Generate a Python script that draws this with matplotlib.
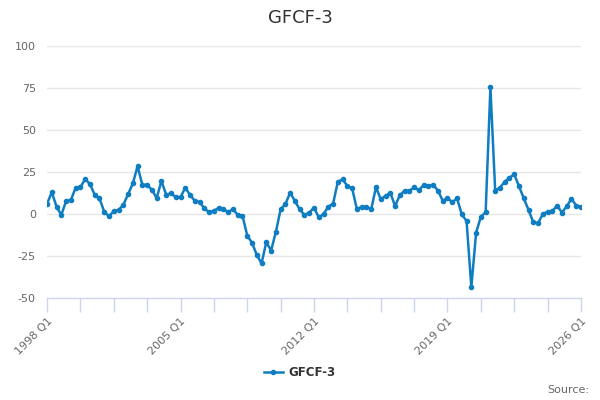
import matplotlib
matplotlib.use("Agg")
import matplotlib.pyplot as plt
from matplotlib.lines import Line2D

years = list(range(1998, 2026))
quarters = [f"{y} Q{q}" for y in years for q in range(1, 5)] + ["2026 Q1"]

gfcf3 = [
    6.0, 13.0, 4.4, -0.6,
    7.7, 8.3, 15.5, 15.9,
    20.8, 17.8, 11.5, 9.3,
    1.4, -1.4, 1.8, 2.4,
    5.4, 11.7, 18.2, 28.4,
    17.3, 17.5, 14.3, 9.5,
    19.6, 11.5, 12.3, 10.1,
    9.9, 15.7, 11.3, 7.9,
    7.0, 3.4, 1.0, 2.0,
    3.6, 3.0, 1.0, 3.0,
    -0.6, -1.0, -12.9, -17.1,
    -24.4, -29.4, -16.7, -21.8,
    -10.7, 2.8, 5.9, 12.7,
    7.7, 2.8, -0.6, 0.8,
    3.8, -2.0, 0.0, 4.4,
    6.1, 19.2, 20.6, 16.7,
    15.3, 2.8, 4.4, 4.2,
    2.8, 15.9, 8.9, 10.7,
    12.7, 4.8, 11.1, 13.9,
    13.7, 15.9, 14.1, 17.4,
    16.8, 17.4, 13.9, 7.9,
    9.5, 7.0, 9.3, -0.2,
    -4.2, -43.6, -11.1, -1.6,
    1.0, 75.4, 13.9, 15.7,
    19.2, 21.6, 23.6, 16.5,
    9.3, 2.4, -5.0, -5.4,
    0.0, 1.4, 1.8, 5.0,
    0.8, 4.6, 9.1, 5.0,
    4.4,
]

y_ticks = [-50, -25, 0, 25, 50, 75, 100]
tick_step = 7
label_every = 4

color = "#0f7dc2"
grid_c = "#e6e6e6"
axis_c = "#ccd6eb"
text_c = "#666666"

fig = plt.figure(figsize=(6, 4), dpi=100)
ax = fig.add_axes([47/600, 1-298/400, (581-47)/600, (298-46)/400])

x = list(range(len(quarters)))
ax.plot(x, gfcf3, color=color, lw=1.8, marker="o", ms=3, zorder=3,
        solid_joinstyle="round")

ax.set_xlim(0, len(quarters)-1)
ax.set_ylim(-50, 100)
ax.set_yticks(y_ticks)
ax.set_yticklabels([str(v) for v in y_ticks], fontsize=8, color=text_c)
ax.tick_params(axis="y", length=0, pad=8)
for v in y_ticks[1:]:
    ax.axhline(v, color=grid_c, lw=1, zorder=1)

tpos = list(range(0, len(quarters), tick_step))
ax.set_xticks(tpos)
labels = [quarters[p] if i % label_every == 0 else "" for i, p in enumerate(tpos)]
ax.set_xticklabels(labels, rotation=45, ha="right", rotation_mode="anchor",
                   fontsize=8, color=text_c)
ax.tick_params(axis="x", length=10, width=1, color=axis_c, pad=3)

for s in ["top", "right", "left"]:
    ax.spines[s].set_visible(False)
ax.spines["bottom"].set_color(axis_c)
ax.spines["bottom"].set_linewidth(1)

fig.text(0.5, 1-18/400, "GFCF-3", ha="center", va="center", fontsize=13,
         color="#333333")

handle = Line2D([], [], color=color, lw=1.8, marker="o", ms=3)
fig.legend([handle], ["GFCF-3"], loc="center", bbox_to_anchor=(0.5, 1-373/400),
           frameon=False, prop={"size": 8.5, "weight": "bold"},
           labelcolor="#333333", handlelength=1.6, handletextpad=0.5)

fig.text(589/600, 1-390/400, "Source:", ha="right", va="center", fontsize=8,
         color=text_c)

fig.savefig("out.png", dpi=100)
